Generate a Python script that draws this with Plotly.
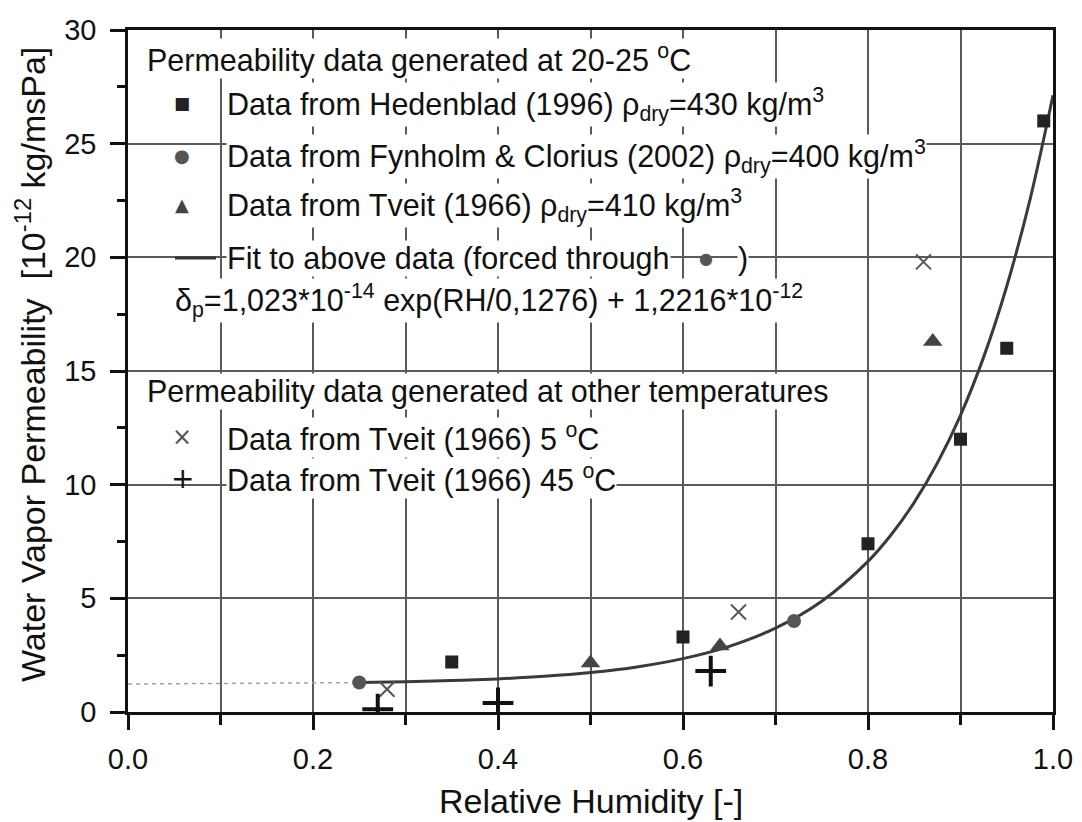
import plotly.graph_objects as go

# ---- data ----
hed_rh = [0.35, 0.60, 0.80, 0.90, 0.95, 0.99]
hed_dp = [2.2, 3.3, 7.4, 12.0, 16.0, 26.0]

fyn_rh = [0.25, 0.72]
fyn_dp = [1.3, 4.0]

tv_rh = [0.50, 0.64, 0.87]
tv_dp = [2.15, 2.9, 16.3]

tv5_rh = [0.28, 0.66, 0.86]
tv5_dp = [1.0, 4.4, 19.8]

tv45_rh = [0.27, 0.40, 0.63]
tv45_dp = [0.12, 0.4, 1.8]

# fit curve (values of the plotted fit, 10^-12 kg/msPa)
fit_rh = [0.25, 0.30, 0.35, 0.40, 0.45, 0.50, 0.55, 0.60, 0.65, 0.70, 0.75, 0.80,
          0.825, 0.85, 0.875, 0.90, 0.925, 0.95, 0.975, 1.00]
fit_dp = [1.294, 1.329, 1.381, 1.457, 1.570, 1.737, 1.983, 2.349, 2.890, 3.690, 4.874, 6.626,
          7.796, 9.219, 10.95, 13.05, 15.61, 18.73, 22.52, 27.13]

ext_rh = [0.0, 0.125, 0.25]
ext_dp = [1.232, 1.249, 1.294]

x_ticks = [0.0, 0.2, 0.4, 0.6, 0.8, 1.0]
x_ticklabels = ["0.0", "0.2", "0.4", "0.6", "0.8", "1.0"]
y_ticks = [0, 5, 10, 15, 20, 25, 30]

x_title = "Relative Humidity [-]"
y_title = "Water Vapor Permeability  [10<sup>-12</sup> kg/msPa]"

FONT = "Liberation Sans, Arial, sans-serif"
TXT = "#111111"
LEG_SIZE = 30.5

fig = go.Figure()

fig.add_trace(go.Scatter(x=ext_rh, y=ext_dp, mode="lines",
                         line=dict(color="#a0a0a0", width=1.5, dash="4px,4px"),
                         showlegend=False, hoverinfo="skip"))
fig.add_trace(go.Scatter(x=fit_rh, y=fit_dp, mode="lines",
                         line=dict(color="#3a3a3a", width=3, shape="spline"),
                         showlegend=False))
fig.add_trace(go.Scatter(x=hed_rh, y=hed_dp, mode="markers",
                         marker=dict(symbol="square", size=13, color="#222222"),
                         showlegend=False))
fig.add_trace(go.Scatter(x=fyn_rh, y=fyn_dp, mode="markers",
                         marker=dict(symbol="circle", size=14, color="#555555"),
                         showlegend=False))
fig.add_trace(go.Scatter(x=tv_rh, y=tv_dp, mode="markers",
                         marker=dict(symbol="triangle-up", size=17, color="#444444"),
                         showlegend=False))
fig.add_trace(go.Scatter(x=tv5_rh, y=tv5_dp, mode="markers",
                         marker=dict(symbol="x-thin", size=15, color="#555555",
                                     line=dict(color="#555555", width=2)),
                         showlegend=False))
fig.add_trace(go.Scatter(x=tv45_rh, y=tv45_dp, mode="markers", cliponaxis=True,
                         marker=dict(symbol="cross-thin", size=22, color="#111111",
                                     line=dict(color="#111111", width=4)),
                         showlegend=False))

# ---- legend built from annotations (pixel -> data helper) ----
L, R, T, B = 128, 1053, 30, 712


def px(xp):
    return (xp - L) / (R - L)


def py(yp):
    return (B - yp) / (B - T) * 30


def text(xp, yp, s, size=LEG_SIZE, bg="white", anchor="left"):
    fig.add_annotation(x=px(xp), y=py(yp), xref="x", yref="y", text=s, showarrow=False,
                       xanchor=anchor, yanchor="middle", bgcolor=bg, borderpad=0,
                       font=dict(family=FONT, size=size, color=TXT))


def glyph(xp, yp, s, size, color):
    fig.add_annotation(x=px(xp), y=py(yp), xref="x", yref="y", text=s, showarrow=False,
                       xanchor="center", yanchor="middle", borderpad=0,
                       font=dict(family="DejaVu Sans", size=size, color=color))


text(146, 58, "Permeability data generated at 20-25 <sup>o</sup>C")
glyph(182, 103, "■", 17, "#222222")
text(226, 104, "Data from Hedenblad (1996) ρ<sub>dry</sub>=430 kg/m<sup>3</sup>")
glyph(182, 155, "●", 18, "#555555")
text(226, 156, "Data from Fynholm &amp; Clorius (2002) ρ<sub>dry</sub>=400 kg/m<sup>3</sup>")
glyph(182, 204, "▲", 18, "#444444")
text(226, 205, "Data from Tveit (1966) ρ<sub>dry</sub>=410 kg/m<sup>3</sup>")
fig.add_shape(type="line", x0=px(175), x1=px(216), y0=py(258), y1=py(258),
              xref="x", yref="y", line=dict(color="#333333", width=3))
text(226, 258, "Fit to above data (forced through")
glyph(706, 258, "●", 16, "#555555")
text(737, 258, ")", anchor="left")
text(174, 300, "δ<sub>p</sub>=1,023*10<sup>-14</sup> exp(RH/0,1276) + 1,2216*10<sup>-12</sup>")
text(146, 391, "Permeability data generated at other temperatures")
glyph(182, 437, "×", 24, "#555555")
text(226, 437, "Data from Tveit (1966) 5 <sup>o</sup>C")
glyph(182, 478, "+", 28, "#111111")
text(226, 478, "Data from Tveit (1966) 45 <sup>o</sup>C")

# axis titles as annotations (fixed placement)
fig.add_annotation(x=0.5, y=(B - 801) / (B - T), xref="paper", yref="paper",
                   text=x_title, showarrow=False, xanchor="center", yanchor="middle",
                   font=dict(family=FONT, size=34, color=TXT))
fig.add_annotation(x=(30 - L) / (R - L), y=(B - 365) / (B - T), xref="paper", yref="paper",
                   text=y_title, showarrow=False, textangle=-90,
                   xanchor="center", yanchor="middle",
                   font=dict(family=FONT, size=34, color=TXT))

grid_col = "#5a5a5a"
fig.update_xaxes(range=[0, 1], tickvals=x_ticks, ticktext=x_ticklabels,
                 showgrid=True, gridcolor=grid_col, gridwidth=1.5,
                 ticks="outside", ticklen=15, tickwidth=2.5, tickcolor="#111",
                 ticklabelstandoff=4, automargin=False,
                 minor=dict(dtick=0.1, showgrid=True, gridcolor=grid_col, gridwidth=1.5,
                            ticks="outside", ticklen=10, tickwidth=2.5, tickcolor="#111"),
                 showline=True, linecolor="#111", linewidth=2.5, mirror=True,
                 zeroline=False,
                 tickfont=dict(family=FONT, size=29, color=TXT))
fig.update_yaxes(range=[0, 30], tickvals=y_ticks,
                 showgrid=True, gridcolor=grid_col, gridwidth=1.5,
                 ticks="outside", ticklen=15, tickwidth=2.5, tickcolor="#111",
                 ticklabelstandoff=8, automargin=False,
                 minor=dict(dtick=2.5, showgrid=False,
                            ticks="outside", ticklen=8, tickwidth=2.5, tickcolor="#111"),
                 showline=True, linecolor="#111", linewidth=2.5, mirror=True,
                 zeroline=False,
                 tickfont=dict(family=FONT, size=29, color=TXT))

fig.update_layout(width=1082, height=822,
                  margin=dict(l=L, r=1082 - R, t=T, b=822 - B),
                  paper_bgcolor="white", plot_bgcolor="white",
                  showlegend=False)

fig.write_html("out.html")
